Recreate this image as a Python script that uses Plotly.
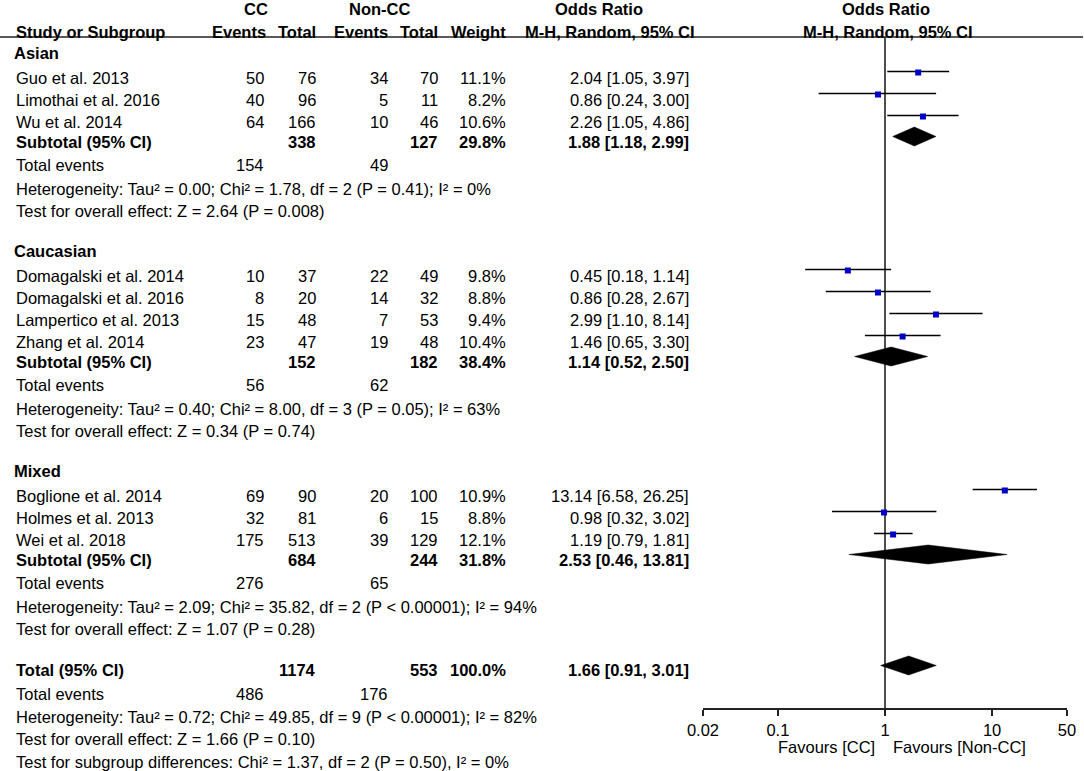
import numpy as np
import plotly.graph_objects as go

FONT = "Liberation Sans, Arial, sans-serif"
W, H = 1084, 771

# ---- data ----
groups = ["Asian", "Caucasian", "Mixed"]
studies = [
    ["Guo et al. 2013", "Limothai et al. 2016", "Wu et al. 2014"],
    ["Domagalski et al. 2014", "Domagalski et al. 2016", "Lampertico et al. 2013", "Zhang et al. 2014"],
    ["Boglione et al. 2014", "Holmes et al. 2013", "Wei et al. 2018"],
]
cc_events = [[50, 40, 64], [10, 8, 15, 23], [69, 32, 175]]
cc_total = [[76, 96, 166], [37, 20, 48, 47], [90, 81, 513]]
ncc_events = [[34, 5, 10], [22, 14, 7, 19], [20, 6, 39]]
ncc_total = [[70, 11, 46], [49, 32, 53, 48], [100, 15, 129]]
weights = [[11.1, 8.2, 10.6], [9.8, 8.8, 9.4, 10.4], [10.9, 8.8, 12.1]]
or_est = [[2.04, 0.86, 2.26], [0.45, 0.86, 2.99, 1.46], [13.14, 0.98, 1.19]]
or_lo = [[1.05, 0.24, 1.05], [0.18, 0.28, 1.10, 0.65], [6.58, 0.32, 0.79]]
or_hi = [[3.97, 3.00, 4.86], [1.14, 2.67, 8.14, 3.30], [26.25, 3.02, 1.81]]

sub_cc_total = [338, 152, 684]
sub_ncc_total = [127, 182, 244]
sub_weight = [29.8, 38.4, 31.8]
sub_est = [1.88, 1.14, 2.53]
sub_lo = [1.18, 0.52, 0.46]
sub_hi = [2.99, 2.50, 13.81]
sub_cc_events = [154, 56, 276]
sub_ncc_events = [49, 62, 65]
sub_het = [
    "Heterogeneity: Tau² = 0.00; Chi² = 1.78, df = 2 (P = 0.41); I² = 0%",
    "Heterogeneity: Tau² = 0.40; Chi² = 8.00, df = 3 (P = 0.05); I² = 63%",
    "Heterogeneity: Tau² = 2.09; Chi² = 35.82, df = 2 (P < 0.00001); I² = 94%",
]
sub_test = [
    "Test for overall effect: Z = 2.64 (P = 0.008)",
    "Test for overall effect: Z = 0.34 (P = 0.74)",
    "Test for overall effect: Z = 1.07 (P = 0.28)",
]

total_cc_total, total_ncc_total = 1174, 553
total_weight = 100.0
total_est, total_lo, total_hi = 1.66, 0.91, 3.01
total_cc_events, total_ncc_events = 486, 176
total_het = "Heterogeneity: Tau² = 0.72; Chi² = 49.85, df = 9 (P < 0.00001); I² = 82%"
total_test = "Test for overall effect: Z = 1.66 (P = 0.10)"
subgroup_test = "Test for subgroup differences: Chi² = 1.37, df = 2 (P = 0.50), I² = 0%"

axis_ticks = [0.02, 0.1, 1, 10, 50]
axis_ticktext = ["0.02", "0.1", "1", "10", "50"]
axis_range = [0.02, 50]

# ---- layout (pixel positions) ----
FS = 16.5
X_NAME = 14
X_CC_EV, X_CC_TOT, X_NCC_EV, X_NCC_TOT, X_WEIGHT, X_OR = 266, 318, 390, 440, 508, 691
Y_LINE = 37
Y_AXIS = 709
FOREST_SHIFT = -5.5
DIAMOND_H = 9.5

annotations = []


def txt(x, y, s, anchor="right", bold=False, size=FS):
    annotations.append(dict(
        x=x, y=y, xref="x", yref="y", text=f"<b>{s}</b>" if bold else s,
        showarrow=False, xanchor=anchor, yanchor="middle",
        font=dict(size=size, family=FONT, color="black"),
    ))


def or_text(e, l, h):
    return f"{e:.2f} [{l:.2f}, {h:.2f}]"


# headers
txt(256, 9, "CC", "center", True)
txt(379, 9, "Non-CC", "center", True)
txt(599, 9, "Odds Ratio", "center", True)
txt(886, 9, "Odds Ratio", "center", True)
txt(X_NAME, 32, "Study or Subgroup", "left", True)
txt(X_CC_EV + 2, 32, "Events", bold=True)
txt(X_CC_TOT, 32, "Total", bold=True)
txt(X_NCC_EV, 32, "Events", bold=True)
txt(X_NCC_TOT, 32, "Total", bold=True)
txt(X_WEIGHT, 32, "Weight", bold=True)
txt(X_OR + 6, 32, "M-H, Random, 95% CI", bold=True)
txt(888, 32, "M-H, Random, 95% CI", "center", True)

ci_x, ci_y, sq_x, sq_y = [], [], [], []
dia_x, dia_y = [], []


def add_diamond(e, l, h, yf):
    dia_x.extend([l, e, h, e, l, None])
    dia_y.extend([yf, yf - DIAMOND_H, yf, yf + DIAMOND_H, yf, None])


y = 53
for g, name in enumerate(groups):
    txt(X_NAME - 2, y, name, "left", True)
    y += 25
    for i, s in enumerate(studies[g]):
        txt(X_NAME, y, s, "left")
        txt(X_CC_EV, y, str(cc_events[g][i]))
        txt(X_CC_TOT, y, str(cc_total[g][i]))
        txt(X_NCC_EV, y, str(ncc_events[g][i]))
        txt(X_NCC_TOT, y, str(ncc_total[g][i]))
        txt(X_WEIGHT, y, f"{weights[g][i]:.1f}%")
        txt(X_OR, y, or_text(or_est[g][i], or_lo[g][i], or_hi[g][i]))
        yf = y + FOREST_SHIFT
        ci_x.extend([or_lo[g][i], or_hi[g][i], None])
        ci_y.extend([yf - 1, yf - 1, None])
        sq_x.append(or_est[g][i])
        sq_y.append(yf)
        y += 22
    y -= 2
    txt(X_NAME, y, "Subtotal (95% CI)", "left", True)
    txt(X_CC_TOT, y, str(sub_cc_total[g]), bold=True)
    txt(X_NCC_TOT, y, str(sub_ncc_total[g]), bold=True)
    txt(X_WEIGHT, y, f"{sub_weight[g]:.1f}%", bold=True)
    txt(X_OR, y, or_text(sub_est[g], sub_lo[g], sub_hi[g]), bold=True)
    add_diamond(sub_est[g], sub_lo[g], sub_hi[g], y + FOREST_SHIFT)
    y += 23
    txt(X_NAME, y, "Total events", "left")
    txt(X_CC_EV, y, str(sub_cc_events[g]))
    txt(X_NCC_EV, y, str(sub_ncc_events[g]))
    y += 23.5
    txt(X_NAME, y, sub_het[g], "left")
    y += 22.5
    txt(X_NAME, y, sub_test[g], "left")
    y += 40

y += 1
txt(X_NAME, y, "Total (95% CI)", "left", True)
txt(X_CC_TOT, y, str(total_cc_total), bold=True)
txt(X_NCC_TOT, y, str(total_ncc_total), bold=True)
txt(X_WEIGHT, y, f"{total_weight:.1f}%", bold=True)
txt(X_OR, y, or_text(total_est, total_lo, total_hi), bold=True)
add_diamond(total_est, total_lo, total_hi, y + FOREST_SHIFT + 1)
y += 24
txt(X_NAME, y, "Total events", "left")
txt(X_CC_EV, y, str(total_cc_events))
txt(X_NCC_EV, y, str(total_ncc_events))
y += 23
txt(X_NAME, y, total_het, "left")
y += 22
txt(X_NAME, y, total_test, "left")
y += 23
txt(X_NAME, y, subgroup_test, "left")

# favours labels, beside the line of no effect
annotations.append(dict(x=0, y=Y_AXIS + 38, xref="x2", yref="y", text="Favours [CC]",
                        showarrow=False, xanchor="right", yanchor="middle", xshift=-8,
                        font=dict(size=FS, family=FONT, color="black")))
annotations.append(dict(x=0, y=Y_AXIS + 38, xref="x2", yref="y", text="Favours [Non-CC]",
                        showarrow=False, xanchor="left", yanchor="middle", xshift=6,
                        font=dict(size=FS, family=FONT, color="black")))

fig = go.Figure()
fig.add_trace(go.Scatter(x=[1, 1], y=[Y_LINE, Y_AXIS], xaxis="x2", yaxis="y", mode="lines",
                         line=dict(color="#222222", width=1.6), hoverinfo="skip"))
fig.add_trace(go.Scatter(x=ci_x, y=ci_y, xaxis="x2", yaxis="y", mode="lines",
                         line=dict(color="black", width=1.6), hoverinfo="skip"))
fig.add_trace(go.Scatter(x=sq_x, y=sq_y, xaxis="x2", yaxis="y", mode="markers",
                         marker=dict(symbol="square", size=6, color="#0000C8", line=dict(width=0))))
fig.add_trace(go.Scatter(x=dia_x, y=dia_y, xaxis="x2", yaxis="y", mode="lines", fill="toself",
                         fillcolor="black", line=dict(color="black", width=0.5), hoverinfo="skip"))

dom2 = [703 / W, 1067 / W]
pos = (H - Y_AXIS) / H
log_range = [float(np.log10(axis_range[0])), float(np.log10(axis_range[1]))]

fig.update_layout(
    width=W, height=H, autosize=False,
    margin=dict(l=0, r=0, t=0, b=0, pad=0, autoexpand=False),
    paper_bgcolor="white", plot_bgcolor="white",
    showlegend=False,
    xaxis=dict(range=[0, W], visible=False, domain=[0, 1]),
    yaxis=dict(range=[H, 0], visible=False, domain=[0, 1]),
    xaxis2=dict(type="log", range=log_range, domain=dom2, anchor="free", position=pos,
                showline=True, linecolor="#222222", linewidth=1.6, showgrid=False, zeroline=False,
                tickvals=axis_ticks, ticktext=axis_ticktext, ticks="outside", ticklen=6,
                tickwidth=1.6, tickcolor="#222222", automargin=False,
                tickfont=dict(size=FS, family=FONT, color="black")),
    xaxis3=dict(type="log", range=log_range, overlaying="x2", anchor="free", position=pos,
                showline=False, showgrid=False, zeroline=False, tickvals=axis_ticks,
                showticklabels=False, ticks="inside", ticklen=5, tickwidth=1.6,
                tickcolor="#222222", automargin=False),
    shapes=[dict(type="line", xref="x", yref="y", x0=0, x1=W - 1, y0=Y_LINE, y1=Y_LINE,
                 line=dict(color="#222222", width=1.6))],
    annotations=annotations,
)

fig.write_html("out.html", config={"displayModeBar": False},
               post_script="document.body.style.margin='0';document.body.style.overflow='hidden';")
